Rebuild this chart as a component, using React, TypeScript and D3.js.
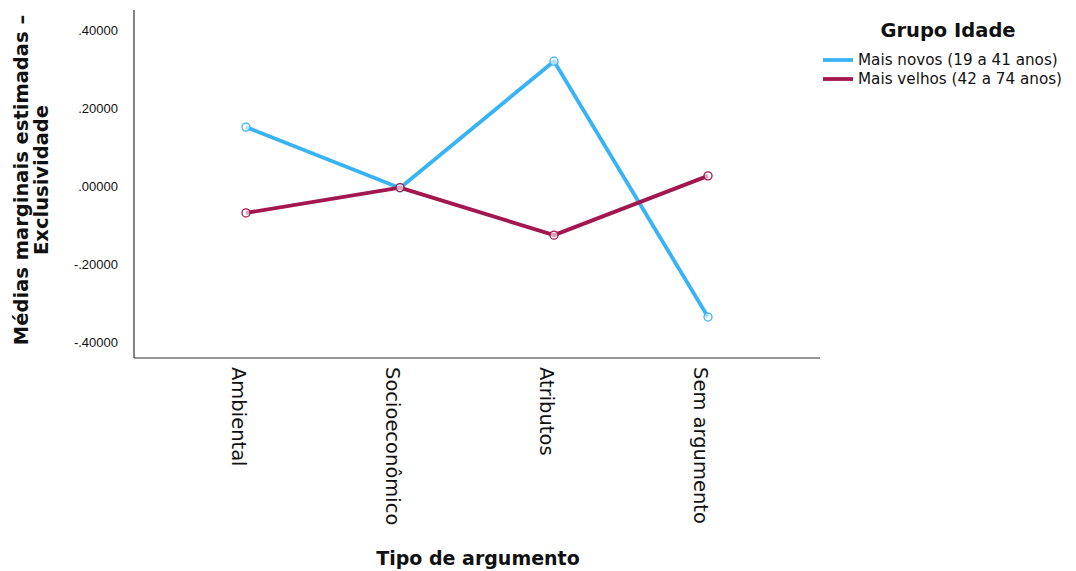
import React from "react";
import * as d3 from "d3";

const categories = ["Ambiental", "Socioeconômico", "Atributos", "Sem argumento"];
const seriesNames = ["Mais novos (19 a 41 anos)", "Mais velhos (42 a 74 anos)"];
const youngerValues = [0.151, -0.005, 0.32, -0.336];
const olderValues = [-0.069, -0.004, -0.126, 0.026];
const yTicks = [0.4, 0.2, 0.0, -0.2, -0.4];
const colors = ["#38b3f3", "#a3174f"];

const W = 1076;
const H = 571;
const left = 134;
const right = 820;
const top = 10;
const bottom = 358;

export default function App() {
  const x = d3.scalePoint<string>().domain(categories).range([left, right]).padding(0.727);
  const y = d3.scaleLinear().domain([-0.4, 0.4]).range([342, 30]);
  const line = d3
    .line<number>()
    .x((_, i) => x(categories[i]) as number)
    .y((d) => y(d));
  const series = [youngerValues, olderValues];
  const font = "'DejaVu Sans', Verdana, sans-serif";
  const fmt = (v: number) => {
    const s = v.toFixed(5);
    return s.replace(/^(-?)0\./, "$1.");
  };

  return (
    <svg width={W} height={H} style={{ position: "absolute", left: 0, top: 0, background: "#fff" }} fontFamily={font}>
      <rect x={0} y={0} width={W} height={H} fill="#fff" />
      {/* axes */}
      <line x1={left} y1={top} x2={left} y2={bottom} stroke="#333" strokeWidth={1.2} />
      <line x1={left} y1={bottom} x2={right} y2={bottom} stroke="#333" strokeWidth={1.2} />
      {yTicks.map((t) => (
        <text
          key={t}
          x={118}
          y={y(t)}
          dy="0.35em"
          textAnchor="end"
          fontSize={13}
          fontFamily="'Liberation Sans', Arial, sans-serif"
          fill="#111"
        >
          {fmt(t)}
        </text>
      ))}
      {categories.map((c) => (
        <text
          key={c}
          transform={`translate(${(x(c) as number) - 7},367) rotate(90)`}
          fontSize={19.5}
          dy="0.35em"
          textAnchor="start"
          fill="#111"
        >
          {c}
        </text>
      ))}
      <text x={478} y={565} textAnchor="middle" fontSize={19} fontWeight="bold" fill="#111">
        Tipo de argumento
      </text>
      <g transform="translate(0,180) rotate(-90)">
        <text x={0} y={28} textAnchor="middle" fontSize={19.5} fontWeight="bold" fill="#111">
          Médias marginais estimadas –
        </text>
        <text x={0} y={48} textAnchor="middle" fontSize={19.5} fontWeight="bold" fill="#111">
          Exclusividade
        </text>
      </g>
      {/* lines */}
      {series.map((s, si) => (
        <g key={si}>
          <path d={line(s) || ""} fill="none" stroke={colors[si]} strokeWidth={3.8} strokeLinejoin="round" />
          {s.map((v, i) => (
            <circle
              key={i}
              cx={x(categories[i]) as number}
              cy={y(v)}
              r={4}
              fill="#fff"
              fillOpacity={0.6}
              stroke={colors[si]}
              strokeWidth={1.3}
            />
          ))}
        </g>
      ))}
      {/* legend */}
      <text x={948} y={37} textAnchor="middle" fontSize={19.5} fontWeight="bold" fill="#111">
        Grupo Idade
      </text>
      {seriesNames.map((n, i) => (
        <g key={n} transform={`translate(0,${60 + i * 19})`}>
          <line x1={823} x2={853} y1={0} y2={0} stroke={colors[i]} strokeWidth={3.8} />
          <text x={858} y={0} dy="0.35em" fontSize={15.2} fill="#111">
            {n}
          </text>
        </g>
      ))}
    </svg>
  );
}
